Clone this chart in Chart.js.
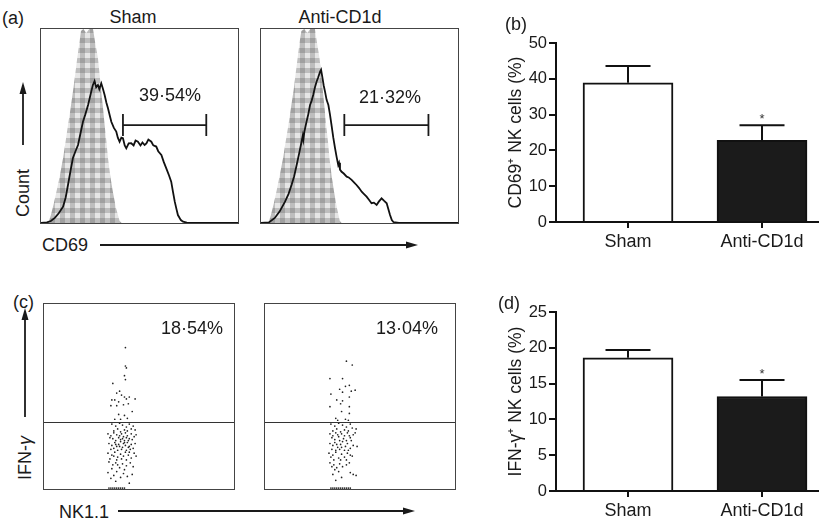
<!DOCTYPE html>
<html>
<head>
<meta charset="utf-8">
<script src="https://cdn.jsdelivr.net/npm/chart.js@4.4.0/dist/chart.umd.min.js"></script>
<style>
  body { margin: 0; background: #fff; }
  #fig { position: relative; width: 819px; height: 519px; overflow: hidden;
         font-family: "Liberation Sans", Arial, sans-serif; color: #1a1a1a; }
  canvas { position: absolute; }
  .t { position: absolute; font-size: 18px; line-height: 1; white-space: nowrap; }
  .mid { transform: translate(-50%, -50%); }
  .lft { transform: translateY(-50%); }
  .rot { transform: translate(-50%, -50%) rotate(-90deg); }
  svg { position: absolute; left: 0; top: 0; }
</style>
</head>
<body>
<div id="fig">
  <canvas id="histSham" style="left:40px;top:28px" width="199" height="196"></canvas>
  <canvas id="histAnti" style="left:260px;top:28px" width="199" height="196"></canvas>
  <canvas id="dotSham" style="left:40px;top:300px" width="198" height="193"></canvas>
  <canvas id="dotAnti" style="left:261px;top:300px" width="198" height="193"></canvas>
  <canvas id="barCd69" style="left:470px;top:31px" width="349" height="221"></canvas>
  <canvas id="barIfn" style="left:470px;top:300px" width="349" height="221"></canvas>

  <div class="t lft" style="left:2px;top:18px">(a)</div>
  <div class="t mid" id="tSham" style="left:133px;top:17px"></div>
  <div class="t mid" id="tAnti" style="left:340px;top:17px"></div>
  <div class="t mid" id="pCd69a" style="left:170px;top:95px"></div>
  <div class="t mid" id="pCd69b" style="left:390px;top:97px"></div>
  <div class="t rot" style="left:23px;top:193px">Count</div>
  <div class="t lft" style="left:42px;top:245px">CD69</div>

  <div class="t lft" style="left:13px;top:302px">(c)</div>
  <div class="t mid" id="pIfna" style="left:192px;top:328px"></div>
  <div class="t mid" id="pIfnb" style="left:407px;top:328px"></div>
  <div class="t rot" style="left:25px;top:458px">IFN-<i>γ</i></div>
  <div class="t lft" style="left:59px;top:512px">NK1.1</div>

  <div class="t lft" style="left:505px;top:24px">(b)</div>
  <div class="t lft" style="left:498px;top:303px">(d)</div>

  <svg width="819" height="519">
    <g stroke="#1a1a1a" stroke-width="1.8" fill="#1a1a1a">
      <line x1="23" y1="145" x2="23" y2="91"/>
      <polygon points="23,82 19.5,94 26.5,94" stroke="none"/>
      <line x1="100" y1="245" x2="409" y2="245"/>
      <polygon points="418,245 406,241.5 406,248.5" stroke="none"/>
      <line x1="25" y1="417" x2="25" y2="317"/>
      <polygon points="25,308 21.5,320 28.5,320" stroke="none"/>
      <line x1="118" y1="511" x2="406" y2="511"/>
      <polygon points="415,511 403,507.5 403,514.5" stroke="none"/>
    </g>
  </svg>
</div>

<script>
// ---- (a) CD69 histograms: [channel, % of max]
const shamControlHist = [[2,0],[3.6,0],[5,4],[6.5,10],[7.8,16],[9.5,24],[11.2,33.5],[12.5,42],[13.7,50.5],[15,59],[16.2,67.7],[17.3,76],[18.4,85],[19.5,93],[20.3,99],[21.5,100],[23,98],[24.5,100],[26.4,100],[27.5,93],[28.9,85],[29.8,76],[30.6,67.7],[31.5,59],[32.3,50.5],[33.2,42],[34,33.5],[35.2,24],[36.5,16],[38,8],[39.9,1],[41,0]];
const shamCd69Hist = [[0,0],[3,0.3],[5,1],[7,2.6],[9,5],[11.2,8.4],[12.5,13],[13.7,19.6],[15,27],[16.2,33.5],[17.5,37],[18.8,40.2],[20,46],[21.3,52.2],[22.5,56],[23.9,60.8],[25.5,67.7],[26.3,71],[27.2,73.2],[28,70],[28.9,71.1],[29.6,69],[30.6,72],[31.5,69],[32.3,66],[33.2,62],[34,59.1],[35,55],[35.7,52.2],[37,49],[38.2,47.1],[39,44],[39.9,41.9],[40.8,44],[41.6,43.7],[42.5,40],[43.3,38.5],[44.5,41],[45.8,41.1],[47,40],[48,42.5],[49.2,41.9],[50.5,40],[51.5,41.5],[52.6,40.2],[53.5,41],[54.5,43],[56,41.9],[57,40],[58.5,39.4],[59.5,37],[61.1,35.1],[62.3,31.5],[63.6,28.2],[65,24.5],[66.1,21.3],[67,16],[67.9,11],[68.8,7],[69.5,4.1],[71,1.5],[72.1,0.7],[74,0.2],[80,0],[100,0]];
const antiControlHist = [[2,0],[3.7,0],[5,4],[6.5,10],[8,17],[9.6,25],[11.3,34],[12.7,43],[14,51],[15.3,60],[16.5,68],[17.6,77],[18.7,86],[19.7,94],[20.5,99],[22,100],[23.5,98],[25,100],[27.4,100],[28.4,93],[29.7,85],[30.6,76],[31.4,68],[32.3,59],[33.1,50],[34,42],[34.8,33],[35.9,24],[37.1,16],[38.5,8],[40,1],[41,0]];
const antiCd69Hist = [[0,0],[4,0.3],[7,2.6],[9.5,6],[12.2,11],[14,15],[15.5,19.6],[16.8,24],[18.1,29.9],[19.4,36],[20.6,41.9],[21.2,45],[21.5,43],[22,47],[23.1,52.2],[24,56],[24.9,60.8],[25.7,63],[26.5,66],[27.4,70],[28.2,72.8],[29,75],[30,78],[30.5,79],[31.1,75.4],[31.8,71],[32.5,67.7],[33.3,63.5],[34.2,60.8],[35,56],[35.8,50.5],[36.7,44],[37.6,38.5],[38.4,34],[39.2,29.9],[39.6,31],[40.1,27.5],[40.9,26.4],[42,25.5],[43.5,23.9],[44.5,23.5],[46,22.2],[47.2,21],[48.5,19.6],[49.8,18],[51.1,16.1],[52.2,15],[53.6,13.6],[54.8,12],[56.1,10.2],[57.3,10.5],[58.7,9.3],[59.8,11],[61.2,12.7],[62.4,11.5],[63.8,10.2],[64.7,7],[65.5,4.1],[66.4,1.5],[67.2,0.5],[70,0],[100,0]];
const shamGate = [41.6, 83.9];
const antiGate = [42.3, 85.0];
const gateLevel = 50.5;
const groupNames = ['Sham', 'Anti-CD1d'];
const cd69Percents = ['39·54%', '21·32%'];

// ---- (c) NK1.1 vs IFN-γ dot plots: [NK1.1, IFN-γ] channel units
const shamDots = [[84,146],[84,127],[85,125],[83,117],[84,113],[71,109],[78,101],[75,99],[80,97],[83,95],[70,92],[73,92],[85,93],[88,95],[94,93],[77,90],[82,87],[69,86],[75,86],[87,88],[91,80],[77,77],[83,76],[73,72],[79,72],[86,73],
  [70,67],[74,65],[78,68],[81,66],[85,64],[88,67],[92,65],[76,62],[83,61],[90,62],[72,60],[79,59],[86,60],[94,61],
  [66,57],[69,55],[72,58],[75,56],[77,53],[80,57],[82,54],[84,58],[86,55],[88,52],[90,57],[93,54],[71,52],[74,50],[79,51],[83,50],[87,50],[91,51],[68,53],[95,56],[78,55],[81,52],[85,53],
  [67,47],[70,45],[73,48],[75,44],[77,46],[79,49],[81,43],[82,47],[84,45],[86,48],[88,44],[90,46],[92,42],[94,47],[69,41],[72,42],[76,40],[80,41],[85,40],[89,41],[78,44],[83,48],[74,46],[87,43],
  [66,37],[70,35],[73,38],[76,33],[79,36],[82,34],[84,38],[87,35],[90,32],[93,37],[68,31],[75,30],[80,31],[85,30],[95,34],[72,34],[88,38],
  [67,28],[71,25],[74,27],[78,22],[81,26],[85,24],[89,27],[70,21],[76,25],[83,20],[92,23],
  [66,17],[72,14],[75,18],[79,12],[82,16],[86,13],[69,11],[91,15],[88,6],[74,8],
  [67,1],[69,1],[71,1],[73,1],[75,1],[77,1],[79,1],[81,1],[83,1]];
const antiDots = [[84,132],[90,128],[67,114],[80,114],[87,107],[83,106],[77,103],[89,101],[93,102],[80,100],[68,98],[87,95],[74,92],[80,91],[78,88],[67,85],[87,85],[79,80],[87,78],[73,73],[83,72],[75,71],[86,71],
  [68,67],[72,65],[76,68],[80,66],[84,64],[88,67],[74,62],[82,61],[90,63],[70,60],[78,59],[86,60],[94,62],
  [67,57],[70,55],[73,58],[76,54],[79,57],[82,55],[85,58],[88,53],[91,56],[72,51],[77,50],[81,52],[84,50],[89,50],[69,53],[93,58],[75,56],[87,55],
  [67,47],[70,45],[72,48],[75,43],[78,46],[80,49],[83,44],[85,47],[88,42],[91,45],[69,41],[73,40],[77,41],[82,40],[86,40],[95,44],[79,43],[74,46],
  [66,37],[70,35],[73,38],[76,32],[79,36],[82,33],[85,37],[88,35],[71,30],[78,30],[84,30],[90,34],[68,33],
  [67,27],[71,25],[74,22],[77,26],[80,23],[84,25],[72,20],[87,27],[69,23],
  [70,15],[76,18],[79,12],[88,17],[91,15],[94,14],[73,9],
  [68,1],[70,1],[72,1],[74,1],[76,1],[78,1],[80,1],[82,1],[84,1],[86,1],[88,1]];
const ifnGate = 69.4;
const ifnPercents = ['18·54%', '13·04%'];

// ---- (b),(d) bar charts
const barCategories = ['Sham', 'Anti-CD1d'];
const cd69Mean = [38.9, 22.8];
const cd69Err = [4.7, 4.2];
const cd69Ticks = [0, 10, 20, 30, 40, 50];
const ifnMean = [18.6, 13.2];
const ifnErr = [1.1, 2.3];
const ifnTicks = [0, 5, 10, 15, 20, 25];
const sigMarks = ['', '*'];

const FONT = '"Liberation Sans", Arial, sans-serif';
const INK = '#1a1a1a';
Chart.defaults.font.family = FONT;
Chart.defaults.color = INK;

document.getElementById('tSham').textContent = groupNames[0];
document.getElementById('tAnti').textContent = groupNames[1];
document.getElementById('pCd69a').textContent = cd69Percents[0];
document.getElementById('pCd69b').textContent = cd69Percents[1];
document.getElementById('pIfna').textContent = ifnPercents[0];
document.getElementById('pIfnb').textContent = ifnPercents[1];

// grey plaid fill of the control histograms
function plaid(ctx) {
  const c = document.createElement('canvas');
  c.width = 10; c.height = 10;
  const g = c.getContext('2d');
  g.fillStyle = '#e6e6e6';
  g.fillRect(0, 0, 10, 10);
  g.fillStyle = 'rgba(70,70,70,0.25)';
  g.fillRect(0, 0, 5, 10);
  g.fillRect(0, 0, 10, 5);
  return ctx.createPattern(c, 'repeat');
}

const toXY = arr => arr.map(p => ({ x: p[0], y: p[1] }));

// frame, gate bar and horizontal gate line of the flow panels
const flowFrame = {
  id: 'flowFrame',
  afterDraw(chart, args, opts) {
    const { ctx, chartArea: a, scales: { x, y } } = chart;
    ctx.save();
    ctx.strokeStyle = '#444';
    ctx.lineWidth = 1;
    ctx.strokeRect(a.left - 0.5, a.top - 0.5, a.width + 1, a.height + 1);
    if (opts.gate) {
      const x1 = x.getPixelForValue(opts.gate[0]);
      const x2 = x.getPixelForValue(opts.gate[1]);
      const yy = y.getPixelForValue(opts.level);
      ctx.strokeStyle = INK;
      ctx.lineWidth = 1.8;
      ctx.beginPath();
      ctx.moveTo(x1, yy); ctx.lineTo(x2, yy);
      ctx.moveTo(x1, yy - 11); ctx.lineTo(x1, yy + 11);
      ctx.moveTo(x2, yy - 11); ctx.lineTo(x2, yy + 11);
      ctx.stroke();
    }
    if (opts.hline != null) {
      const yy = Math.round(y.getPixelForValue(opts.hline)) + 0.5;
      ctx.strokeStyle = '#333';
      ctx.lineWidth = 1;
      ctx.beginPath();
      ctx.moveTo(a.left, yy); ctx.lineTo(a.right, yy);
      ctx.stroke();
    }
    ctx.restore();
  }
};

const hiddenScales = (xmax, ymax) => ({
  x: { type: 'linear', min: 0, max: xmax, display: false },
  y: { type: 'linear', min: 0, max: ymax, display: false }
});

function histogram(id, control, sample, gate) {
  const el = document.getElementById(id);
  return new Chart(el, {
    type: 'line',
    data: {
      datasets: [
        { data: toXY(sample), borderColor: '#111', borderWidth: 1.8, fill: false, pointRadius: 0, tension: 0 },
        { data: toXY(control), borderWidth: 0, backgroundColor: plaid(el.getContext('2d')), fill: 'origin', pointRadius: 0, tension: 0 }
      ]
    },
    options: {
      responsive: false, animation: false, events: [],
      layout: { padding: 1 },
      plugins: { legend: { display: false }, tooltip: { enabled: false }, flowFrame: { gate, level: gateLevel } },
      scales: hiddenScales(100, 100)
    },
    plugins: [flowFrame]
  });
}

function dotPlot(id, dots) {
  return new Chart(document.getElementById(id), {
    type: 'scatter',
    data: { datasets: [{ data: toXY(dots), pointRadius: 0.85, pointBackgroundColor: '#222', pointBorderWidth: 0 }] },
    options: {
      responsive: false, animation: false, events: [],
      layout: { padding: 1 },
      plugins: { legend: { display: false }, tooltip: { enabled: false }, flowFrame: { hline: ifnGate } },
      scales: hiddenScales(196, 191)
    },
    plugins: [flowFrame]
  });
}

const errorBars = {
  id: 'errorBars',
  afterDatasetsDraw(chart, args, opts) {
    const { ctx, scales: { y } } = chart;
    const bars = chart.getDatasetMeta(0).data;
    ctx.save();
    ctx.strokeStyle = '#111';
    ctx.lineWidth = 2;
    bars.forEach((bar, i) => {
      const top = y.getPixelForValue(opts.means[i] + opts.errs[i]);
      const base = y.getPixelForValue(opts.means[i]);
      ctx.beginPath();
      ctx.moveTo(bar.x, base); ctx.lineTo(bar.x, top);
      ctx.moveTo(bar.x - 22.5, top); ctx.lineTo(bar.x + 22.5, top);
      ctx.stroke();
      if (opts.marks[i]) {
        ctx.fillStyle = '#333';
        ctx.font = '13px ' + FONT;
        ctx.textAlign = 'center';
        ctx.textBaseline = 'alphabetic';
        ctx.fillText(opts.marks[i], bar.x, top - 2);
      }
    });
    ctx.restore();
  }
};

function barChart(id, means, errs, ticks, title) {
  return new Chart(document.getElementById(id), {
    type: 'bar',
    data: {
      datasets: [{
        data: means.map((v, i) => ({ x: i + 1, y: v })),
        backgroundColor: ['#ffffff', '#1b1b1b'],
        borderColor: '#111',
        borderWidth: 2,
        borderSkipped: 'bottom',
        barThickness: 90
      }]
    },
    options: {
      responsive: false, animation: false, events: [],
      layout: { padding: { top: 12, right: 0, bottom: 0, left: 0 } },
      plugins: {
        legend: { display: false }, tooltip: { enabled: false },
        errorBars: { means, errs, marks: sigMarks }
      },
      scales: {
        x: {
          type: 'linear', min: 0.4626, max: 2.4253, offset: false,
          afterBuildTicks(s) { s.ticks = barCategories.map((_, i) => ({ value: i + 1 })); },
          afterFit(s) { s.height = 30; s.paddingLeft = 0; s.paddingRight = 0; },
          ticks: { callback: v => barCategories[v - 1], font: { size: 18 }, color: INK, padding: 3, maxRotation: 0, autoSkip: false },
          grid: { offset: false, drawOnChartArea: false, tickLength: 6, lineWidth: 2, color: '#111' },
          border: { color: '#111', width: 2 }
        },
        y: {
          min: ticks[0], max: ticks[ticks.length - 1],
          afterBuildTicks(s) { s.ticks = ticks.map(v => ({ value: v })); },
          afterFit(s) { s.width = 86; s.paddingTop = 0; s.paddingBottom = 0; },
          ticks: { font: { size: 16.5 }, color: INK, padding: 2 },
          title: { display: true, text: title, font: { size: 17.5 }, color: INK, padding: { top: 36, bottom: 0 } },
          grid: { drawOnChartArea: false, tickLength: 7, lineWidth: 2, color: '#111' },
          border: { color: '#111', width: 2 }
        }
      }
    },
    plugins: [errorBars]
  });
}

histogram('histSham', shamControlHist, shamCd69Hist, shamGate);
histogram('histAnti', antiControlHist, antiCd69Hist, antiGate);
dotPlot('dotSham', shamDots);
dotPlot('dotAnti', antiDots);
barChart('barCd69', cd69Mean, cd69Err, cd69Ticks, 'CD69⁺ NK cells (%)');
barChart('barIfn', ifnMean, ifnErr, ifnTicks, 'IFN-γ⁺ NK cells (%)');
</script>
</body>
</html>
